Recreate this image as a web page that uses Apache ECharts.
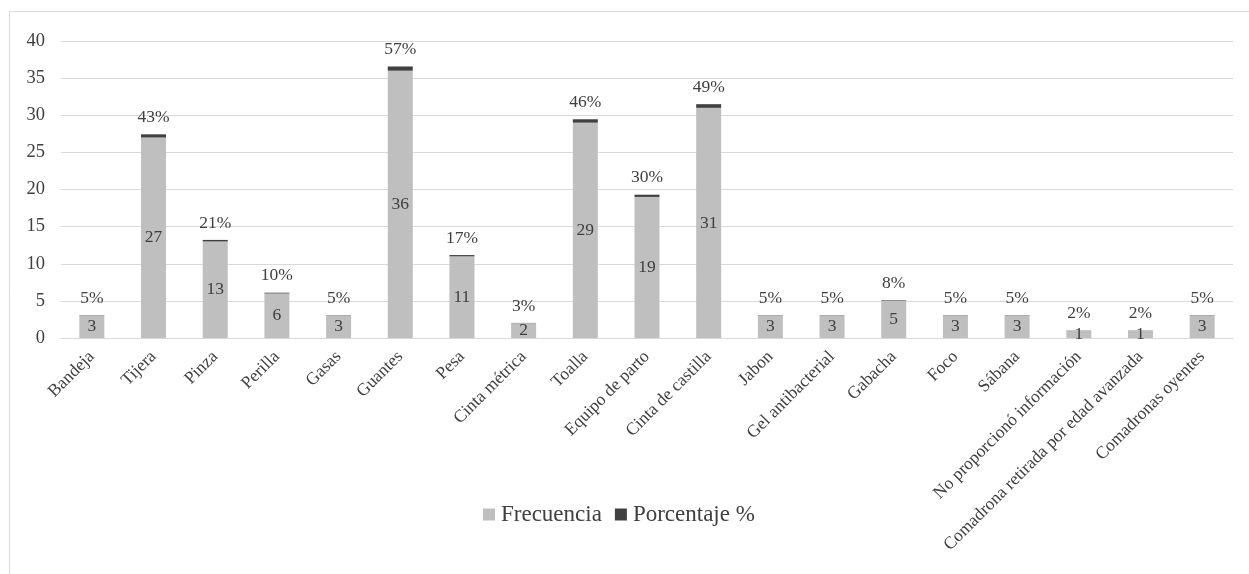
<!DOCTYPE html>
<html>
<head>
<meta charset="utf-8">
<script src="https://cdn.jsdelivr.net/npm/echarts@6/dist/echarts.min.js"></script>
<style>
  html, body { margin: 0; padding: 0; background: #fff; }
  #chart { width: 1249px; height: 574px; }
</style>
</head>
<body>
<div id="chart"></div>
<script>
// Materials used by the comadronas: count and share
const categories = [
  'Bandeja', 'Tijera', 'Pinza', 'Perilla', 'Gasas', 'Guantes', 'Pesa',
  'Cinta métrica', 'Toalla', 'Equipo de parto', 'Cinta de castilla', 'Jabon',
  'Gel antibacterial', 'Gabacha', 'Foco', 'Sábana',
  'No proporcionó información', 'Comadrona retirada por edad avanzada',
  'Comadronas oyentes'
];
const frecuencia = [3, 27, 13, 6, 3, 36, 11, 2, 29, 19, 31, 3, 3, 5, 3, 3, 1, 1, 3];
const porcentaje = [5, 43, 21, 10, 5, 57, 17, 3, 46, 30, 49, 5, 5, 8, 5, 5, 2, 2, 5];
const yTicks = [0, 5, 10, 15, 20, 25, 30, 35, 40];

const FONT = '"Liberation Serif", "Times New Roman", serif';
const TEXT = '#404040';

const chart = echarts.init(document.getElementById('chart'));
chart.setOption({
  animation: false,
  textStyle: { fontFamily: FONT, color: TEXT },
  graphic: [{
    type: 'rect',
    shape: { x: 9.5, y: 11.5, width: 1300, height: 700 },
    style: { fill: 'none', stroke: '#D9D9D9', lineWidth: 1 },
    silent: true, z: -1
  }],
  grid: { left: 61, right: 16, top: 41, bottom: 236, containLabel: false },
  legend: {
    left: 478, top: 498,
    itemWidth: 12, itemHeight: 12, itemGap: 13,
    textStyle: { fontFamily: FONT, fontSize: 23, color: TEXT, padding: [0, 0, 0, 1] },
    icon: 'rect',
    data: ['Frecuencia', 'Porcentaje %']
  },
  xAxis: {
    type: 'category',
    data: categories,
    axisLine: { lineStyle: { color: '#D9D9D9', width: 1 } },
    axisTick: { show: false },
    axisLabel: {
      interval: 0, rotate: 45, margin: 16,
      fontFamily: FONT, fontSize: 17.5, color: TEXT
    }
  },
  yAxis: {
    type: 'value',
    min: yTicks[0], max: yTicks[yTicks.length - 1], interval: 5,
    axisLine: { show: false },
    axisTick: { show: false },
    axisLabel: { fontFamily: FONT, fontSize: 18.5, color: TEXT, margin: 16 },
    splitLine: { lineStyle: { color: '#D9D9D9', width: 1 } }
  },
  series: [
    {
      name: 'Frecuencia',
      type: 'bar',
      stack: 'total',
      barWidth: 25,
      data: frecuencia,
      itemStyle: { color: '#BFBFBF' },
      label: {
        show: true, position: 'inside',
        fontFamily: FONT, fontSize: 17.5, color: TEXT
      }
    },
    {
      name: 'Porcentaje %',
      type: 'bar',
      stack: 'total',
      barWidth: 25,
      data: porcentaje.map(p => p / 100),
      itemStyle: { color: '#404040' },
      label: {
        show: true, position: 'top', distance: 8,
        fontFamily: FONT, fontSize: 17.5, color: TEXT,
        formatter: p => porcentaje[p.dataIndex] + '%'
      }
    }
  ]
});
</script>
</body>
</html>
